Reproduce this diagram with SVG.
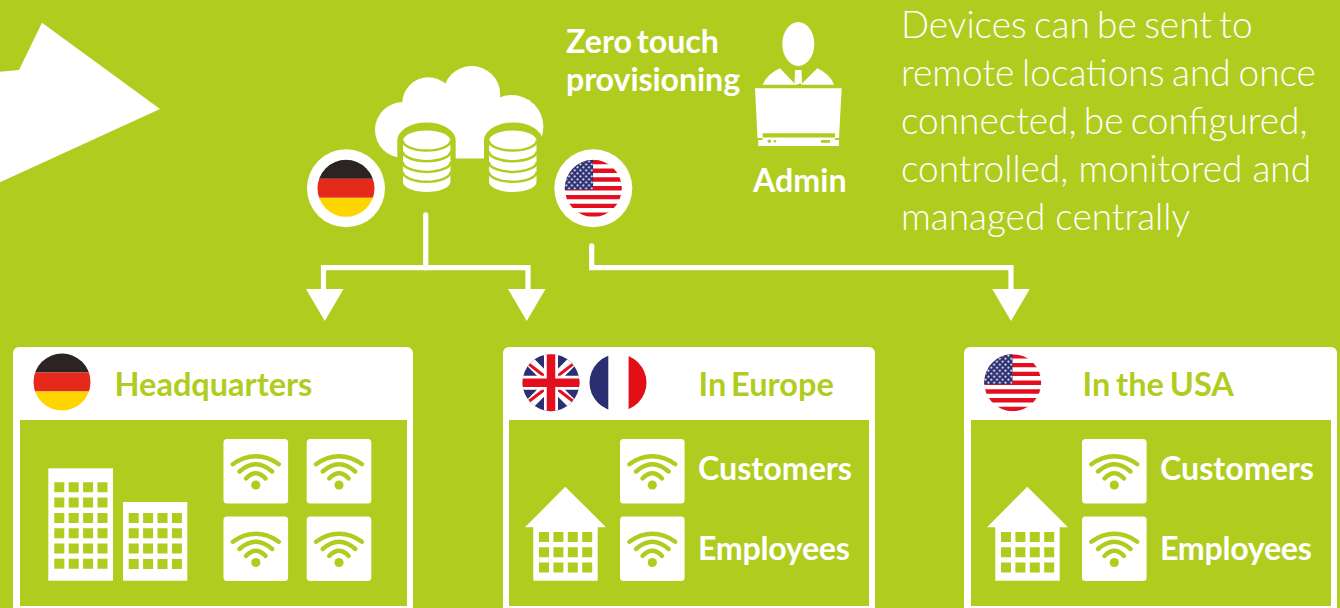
<svg xmlns="http://www.w3.org/2000/svg" xmlns:xlink="http://www.w3.org/1999/xlink" width="1340" height="608" viewBox="0 0 1340 608">
<style>
text{font-family:Lato,"Liberation Sans",sans-serif}
.w{fill:#fff}
.g{fill:#b0cd1f}
.h{font-size:32.5px;font-weight:700;fill:#b0cd1f}
.l{font-size:32.2px;font-weight:700;fill:#fff}
.p{font-size:37px;font-weight:300;fill:#fff}
.wa{fill:none;stroke:#b0cd1f;stroke-width:4.400;stroke-linecap:round}
.conn{fill:none;stroke:#fff;stroke-width:5.200;stroke-linecap:round;stroke-linejoin:miter}
.dbl{fill:none;stroke:#b0cd1f;stroke-width:2.500}
</style>
<defs>
<marker id="arrowL" markerUnits="userSpaceOnUse" markerWidth="40" markerHeight="34" refX="17.500" refY="1" orient="0" viewBox="0 0 40 34"><path d="M0 0H37.500L18.750 32Z" fill="#fff"/></marker>
<marker id="arrowR" markerUnits="userSpaceOnUse" markerWidth="40" markerHeight="34" refX="20" refY="1" orient="0" viewBox="0 0 40 34"><path d="M0 0H37.500L18.750 32Z" fill="#fff"/></marker>
<marker id="arrowC" markerUnits="userSpaceOnUse" markerWidth="40" markerHeight="34" refX="18.750" refY="1" orient="0" viewBox="0 0 40 34"><path d="M0 0H37.500L18.750 32Z" fill="#fff"/></marker>
<clipPath id="c"><circle r="28.5"/></clipPath>
<clipPath id="cc"><rect x="360" y="50" width="200" height="108.500"/></clipPath>
<pattern id="stars" patternUnits="userSpaceOnUse" x="-28.5" y="-28.5" width="5.700" height="6"><circle cx="1.400" cy="1.500" r="1.100" fill="#fff"/><circle cx="4.250" cy="4.500" r="1.100" fill="#fff"/></pattern>
<g id="de" clip-path="url(#c)"><rect x="-29" y="-29" width="58" height="19.500" fill="#2b2423"/><rect x="-29" y="-9.500" width="58" height="19" fill="#e52a1c"/><rect x="-29" y="9.500" width="58" height="20" fill="#ffd500"/></g>
<g id="us" clip-path="url(#c)"><rect x="-29" y="-29" width="58" height="58" fill="#fff"/>
<path fill="#e30f1e" d="M-29-28.500H29V-24.100H-29ZM-29-19.700H29V-15.400H-29ZM-29-11H29V-6.600H-29ZM-29-2.200H29V2.200H-29ZM-29 6.600H29V11H-29ZM-29 15.400H29V19.700H-29ZM-29 24.100H29V28.500H-29Z"/>
<rect x="-29" y="-29" width="28.800" height="30.500" fill="#2b2f72"/><rect x="-29" y="-29" width="28.800" height="30.500" fill="url(#stars)"/></g>
<g id="fr" clip-path="url(#c)"><rect x="-29" y="-29" width="19.300" height="58" fill="#2b2f72"/><rect x="10.600" y="-29" width="19" height="58" fill="#e30f14"/></g>
<g id="uk" clip-path="url(#c)"><rect x="-29" y="-29" width="58" height="58" fill="#2b2f72"/>
<path d="M-29-29L29 29M29-29L-29 29" stroke="#fff" stroke-width="10" fill="none"/>
<path d="M-29-24L-6-6M6 6L29 24M29-24L7-7M-7 7L-29 24" stroke="#e30f1e" stroke-width="3" fill="none"/>
<path d="M0-29V29M-29 0H29" stroke="#fff" stroke-width="14" fill="none"/>
<path d="M0-29V29M-29 0H29" stroke="#e30f1e" stroke-width="8.500" fill="none"/></g>
<g id="wifi"><rect width="64.600" height="64.600" rx="3.500" fill="#fff"/><path class="wa" d="M9.300 25.200Q32.300 9.500 55.300 25.200"/><path class="wa" d="M16 32.500Q32.300 18 48.600 32.500"/><path class="wa" d="M22.500 39.500Q32.300 29 42 39.500"/><circle cx="32.300" cy="46" r="4.600" class="g"/></g>
<path id="w4" class="g" d="M0 0h10v10H0zM14.400 0h10v10h-10zM28.800 0h10v10h-10zM43.200 0h10v10h-10z"/>
<g id="house"><path class="w" d="M40.300 0L81 40.600H72.700V94H8.300V40.600H0Z"/><use xlink:href="#w4" href="#w4" x="14" y="45.300"/><use xlink:href="#w4" href="#w4" x="14" y="60.600"/><use xlink:href="#w4" href="#w4" x="14" y="75.900"/></g>
<g id="db"><path class="w" d="M-23.700 0A23.700 10 0 0 1 23.700 0V41.500A23.700 10 0 0 1-23.700 41.500Z"/><path class="dbl" d="M-24 0A24 10 0 0 0 24 0M-24 10.700A24 10 0 0 0 24 10.700M-24 21.400A24 10 0 0 0 24 21.400M-24 31.300A24 10 0 0 0 24 31.300"/></g>
</defs>
<rect width="1340" height="608" class="g"/>
<path id="pointer" class="w" d="M0 71.700L19 70L42 22.700L160 109L0 182.300Z"/>
<g id="cloud">
<g clip-path="url(#cc)" class="w"><circle cx="403" cy="130" r="28"/><circle cx="428.300" cy="103.300" r="26"/><circle cx="471.700" cy="94.500" r="28.500"/><circle cx="511.700" cy="126.700" r="31.700"/><rect x="405" y="100" width="125" height="60"/></g>
<path class="g" d="M397.300 165V140.500A29.200 18 0 0 1 455.700 140.500V165ZM484 165V140.500A29.200 18 0 0 1 542.400 140.500V165Z"/>
<use xlink:href="#db" href="#db" x="426.700" y="140.500"/>
<use xlink:href="#db" href="#db" x="512.800" y="140.500"/>
</g>
<g id="flag-de"><circle cx="346" cy="188.300" r="39" class="w"/><use xlink:href="#de" href="#de" x="346" y="188.300"/></g>
<g id="flag-us"><circle cx="593.300" cy="188.300" r="39" class="w"/><use xlink:href="#us" href="#us" x="593.300" y="188.300"/></g>
<g id="zero-touch"><text class="l" x="566" y="53" word-spacing="-3">Zero touch</text><text class="l" x="566" y="91" letter-spacing="-0.100">provisioning</text></g>
<g id="admin">
<ellipse cx="798.300" cy="44" rx="16" ry="22" class="w"/>
<path class="w" d="M762.700 84.700Q767 74 780 68.300L794.500 83.500L795 70H801.500L802 83.500L817.300 68.300Q830 74 834 84.700H802.500L800 83.500 L796.500 84.700Z"/>
<path class="w" d="M755 88.300H841.700L839 138H835V133.300H762.700V138H757.500Z"/>
<path class="w" d="M762.500 137.500H835V140H839V146H758.300V140H762.500Z"/>
<circle cx="769.300" cy="141.300" r="1.700" class="g"/><circle cx="775" cy="141.300" r="1.200" class="g"/><rect x="821" y="140" width="9" height="2.800" class="g"/>
<text class="l" x="753" y="191.500">Admin</text></g>
<g id="description"><text class="p" x="901" y="37.500" word-spacing="-2.700">Devices can be sent to</text><text class="p" x="901" y="85.500" word-spacing="-2.300">remote locations and once</text><text class="p" x="901" y="133.500" word-spacing="-2.800">connected, be configured,</text><text class="p" x="901" y="181.500">controlled, monitored and</text><text class="p" x="901" y="229.500">managed centrally</text></g>
<g id="connectors">
<path class="conn" d="M425.700 214.800V267.700"/>
<path class="conn" d="M425.700 267.700H323.500V290" style="stroke-linecap:butt" marker-end="url(#arrowL)"/>
<path class="conn" d="M425.700 267.700H528V290" style="stroke-linecap:butt" marker-end="url(#arrowR)"/>
<path class="conn" d="M591.700 245.800V267.700H1011V290" marker-end="url(#arrowC)"/>
</g>
<g id="headquarters">
<rect x="13" y="347" width="400" height="270" rx="6" class="w"/><rect x="20" y="420" width="387" height="186" class="g"/>
<use xlink:href="#de" href="#de" x="62" y="382"/>
<text class="h" x="114.500" y="396">Headquarters</text>
<rect x="48.300" y="468.300" width="64.700" height="112.400" class="w"/><rect x="123" y="502" width="64.300" height="78.700" class="w"/>
<use xlink:href="#w4" href="#w4" x="54.300" y="482.300"/><use xlink:href="#w4" href="#w4" x="54.300" y="497.600"/><use xlink:href="#w4" href="#w4" x="54.300" y="512.900"/><use xlink:href="#w4" href="#w4" x="54.300" y="528.200"/><use xlink:href="#w4" href="#w4" x="54.300" y="543.500"/><use xlink:href="#w4" href="#w4" x="54.300" y="558.800"/>
<use xlink:href="#w4" href="#w4" x="128.700" y="513"/><use xlink:href="#w4" href="#w4" x="128.700" y="528.300"/><use xlink:href="#w4" href="#w4" x="128.700" y="543.600"/><use xlink:href="#w4" href="#w4" x="128.700" y="558.900"/>
<use xlink:href="#wifi" href="#wifi" x="223.500" y="439"/><use xlink:href="#wifi" href="#wifi" x="306.700" y="439"/><use xlink:href="#wifi" href="#wifi" x="223.500" y="516.500"/><use xlink:href="#wifi" href="#wifi" x="306.700" y="516.500"/>
</g>
<g id="europe">
<rect x="503" y="347" width="372" height="270" rx="6" class="w"/><rect x="509" y="420" width="360" height="186" class="g"/>
<use xlink:href="#uk" href="#uk" x="551" y="382.700"/><use xlink:href="#fr" href="#fr" x="618" y="382.700"/>
<text class="h" x="698.500" y="396" word-spacing="-3">In Europe</text>
<use xlink:href="#house" href="#house" x="525" y="486.700"/>
<use xlink:href="#wifi" href="#wifi" x="620" y="439"/><use xlink:href="#wifi" href="#wifi" x="620" y="516.500"/>
<text class="l" x="698" y="480">Customers</text><text class="l" x="698" y="559.500" letter-spacing="-0.300">Employees</text>
</g>
<g id="usa">
<rect x="964" y="347" width="373" height="270" rx="6" class="w"/><rect x="971" y="420" width="360" height="186" class="g"/>
<use xlink:href="#us" href="#us" x="1012.700" y="382.700"/>
<text class="h" x="1082.500" y="396" word-spacing="-2">In the USA</text>
<use xlink:href="#house" href="#house" x="987" y="486.700"/>
<use xlink:href="#wifi" href="#wifi" x="1082" y="439"/><use xlink:href="#wifi" href="#wifi" x="1082" y="516.500"/>
<text class="l" x="1160" y="480">Customers</text><text class="l" x="1160" y="559.500" letter-spacing="-0.300">Employees</text>
</g>
</svg>
